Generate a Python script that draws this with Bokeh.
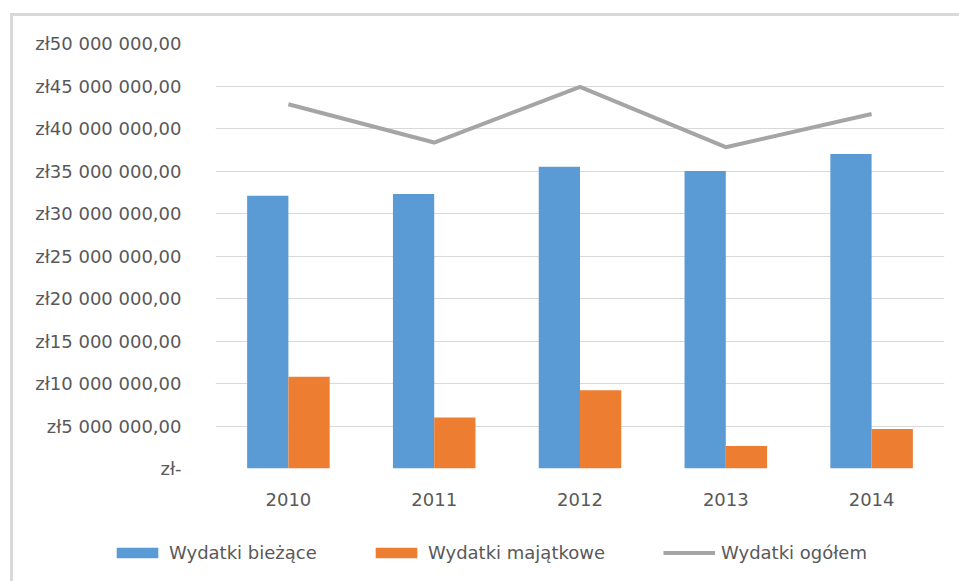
from bokeh.plotting import figure
from bokeh.models import FactorRange, FixedTicker, Legend, LegendItem, ColumnDataSource
from bokeh.layouts import column
from bokeh.transform import dodge
from bokeh.embed import file_html
from bokeh.resources import INLINE

years = ["2010", "2011", "2012", "2013", "2014"]
biezace = [32100000, 32300000, 35500000, 35000000, 37000000]
majatkowe = [10800000, 6000000, 9200000, 2650000, 4650000]
ogolem = [42850000, 38350000, 44900000, 37800000, 41700000]
y_ticks = [0, 5000000, 10000000, 15000000, 20000000, 25000000, 30000000, 35000000, 40000000, 45000000, 50000000]
y_tick_labels = ["zł-", "zł5 000 000,00", "zł10 000 000,00", "zł15 000 000,00", "zł20 000 000,00",
                 "zł25 000 000,00", "zł30 000 000,00", "zł35 000 000,00", "zł40 000 000,00",
                 "zł45 000 000,00", "zł50 000 000,00"]
series_names = ["Wydatki bieżące", "Wydatki majątkowe", "Wydatki ogółem"]
colors = ["#5B9BD5", "#ED7D31", "#A5A5A5"]

FONT = "DejaVu Sans"
FS = "18px"
TXT = "#595959"

src = ColumnDataSource(dict(x=years, b=biezace, m=majatkowe, o=ogolem))

# main chart
p = figure(width=946, height=509, x_range=FactorRange(*years, range_padding=0),
           y_range=(0, 50000000), output_backend="svg", toolbar_location=None,
           min_border_left=202, min_border_right=15, min_border_top=27, min_border_bottom=57)
p.frame_align = False
p.outline_line_color = None
p.background_fill_color = "white"
p.border_fill_color = "white"

p.vbar(x=dodge("x", -0.1415, range=p.x_range), top="b", width=0.283, source=src,
       fill_color=colors[0], line_color=None)
p.vbar(x=dodge("x", 0.1415, range=p.x_range), top="m", width=0.283, source=src,
       fill_color=colors[1], line_color=None)
p.line(x="x", y="o", source=src, line_color=colors[2], line_width=4)

p.xgrid.grid_line_color = None
p.ygrid.grid_line_color = "#D9D9D9"
p.ygrid.grid_line_width = 1

p.yaxis.ticker = FixedTicker(ticks=y_ticks)
p.yaxis.major_label_overrides = {t: l for t, l in zip(y_ticks, y_tick_labels)}
for ax in (p.xaxis[0], p.yaxis[0]):
    ax.axis_line_color = None
    ax.major_tick_line_color = None
    ax.minor_tick_line_color = None
    ax.major_label_text_font = FONT
    ax.major_label_text_font_size = FS
    ax.major_label_text_color = TXT
p.yaxis.major_label_standoff = 28
p.xaxis.major_label_standoff = 18

# legend strip: its renderers carry only the styles for the legend swatches
q = figure(width=946, height=56, x_range=FactorRange(*years), y_range=(-60000000, -50000000),
           output_backend="svg", toolbar_location=None, min_border=0)
q.frame_align = False
q.axis.visible = False
q.grid.grid_line_color = None
q.outline_line_color = None
q.background_fill_color = "white"
q.border_fill_color = "white"
rb = q.vbar(x="x", top="b", width=0, source=src, fill_color=colors[0], line_color=None)
ro = q.vbar(x="x", top="m", width=0, source=src, fill_color=colors[1], line_color=None)
rl = q.line(x="x", y="o", source=src, line_color=colors[2], line_width=4)

legend_x = [98, 357, 650]
for name, r, lx in zip(series_names, [rb, ro, rl], legend_x):
    lg = Legend(items=[LegendItem(label=name, renderers=[r])], location=(lx, 18),
                orientation="horizontal", glyph_width=52, glyph_height=13, label_standoff=6,
                padding=0, margin=0, border_line_color=None, background_fill_alpha=0,
                label_text_font=FONT, label_text_font_size=FS, label_text_color=TXT)
    q.add_layout(lg, "center")

layout = column(p, q, spacing=0)
layout.styles = {"border-left": "3px solid #D9D9D9", "border-top": "3px solid #D9D9D9",
                 "margin-left": "10px", "margin-top": "13px"}

open("out.html", "w").write(file_html(layout, INLINE))
